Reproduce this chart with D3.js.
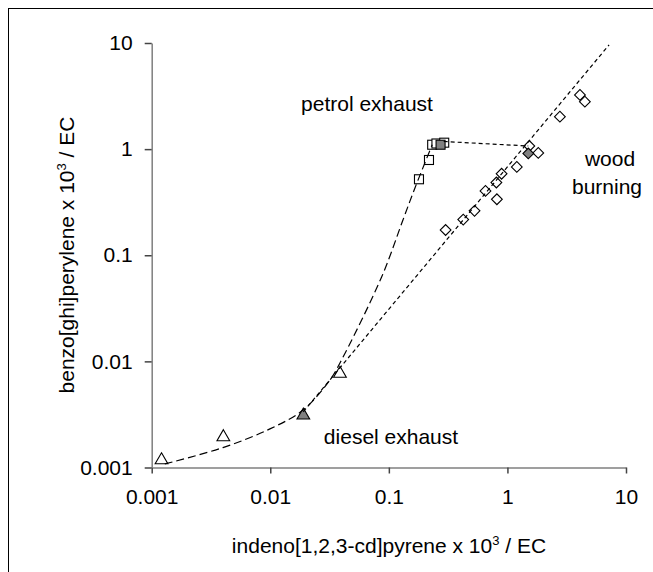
<!DOCTYPE html>
<html><head><meta charset="utf-8">
<script src="https://cdn.jsdelivr.net/npm/d3@7"></script>
<style>body{margin:0;background:#fff}svg{display:block;font-family:"Liberation Sans",Arial,sans-serif}</style>
</head><body><svg id="c" width="653" height="572"></svg>
<script>
// ---- data ----
const xTicks = [0.001, 0.01, 0.1, 1, 10];
const yTicks = [0.001, 0.01, 0.1, 1, 10];
const xTickLabels = ["0.001", "0.01", "0.1", "1", "10"];
const yTickLabels = ["0.001", "0.01", "0.1", "1", "10"];

// diesel exhaust (triangles)
const dieselX = [0.00121, 0.00402, 0.0387];
const dieselY = [0.0012, 0.00198, 0.00783];
const dieselMeanX = [0.019];
const dieselMeanY = [0.00317];

// petrol exhaust (squares)
const petrolX = [0.1795, 0.218, 0.232, 0.252, 0.293];
const petrolY = [0.52, 0.79, 1.10, 1.13, 1.15];
const petrolMeanX = [0.273];
const petrolMeanY = [1.10];

// wood burning (diamonds)
const woodX = [0.301, 0.424, 0.528, 0.653, 0.815, 0.807, 0.893, 1.20, 1.53, 1.82, 2.77, 4.09, 4.50];
const woodY = [0.173, 0.217, 0.262, 0.404, 0.337, 0.485, 0.586, 0.679, 1.07, 0.92, 2.02, 3.24, 2.80];
const woodMeanX = [1.50];
const woodMeanY = [0.91];

// long-dash curve (diesel -> petrol)
const curveX = [0.00129, 0.00399, 0.00993, 0.0189, 0.0319, 0.0387, 0.0869, 0.1315, 0.166, 0.232];
const curveY = [0.00108, 0.00154, 0.00231, 0.00348, 0.00668, 0.00966, 0.0624, 0.215, 0.431, 1.10];
// short-dash straight line (wood burning trend)
const woodLineX = [0.019, 7.2];
const woodLineY = [0.00335, 9.6];
// connecting line petrol -> wood
const linkX = [0.29, 1.50];
const linkY = [1.18, 1.07];

const labels = ["petrol exhaust", "wood", "burning", "diesel exhaust"];

// ---- drawing ----
const svg = d3.select("#c");
const L = 151.7, R = 626, T = 43, B = 467.5;
const x = d3.scaleLog().domain([0.001, 10]).range([L, R]);
const y = d3.scaleLog().domain([0.001, 10]).range([B, T]);

svg.append("rect").attr("x", 8.5).attr("y", 8.5).attr("width", 700).attr("height", 700)
  .attr("fill", "none").attr("stroke", "#000").attr("stroke-width", 1);

const fs = 21;
const ff = '"Liberation Sans",Arial,sans-serif';
// axes
const xAxis = d3.axisBottom(x).tickValues(xTicks).tickFormat((d, i) => xTickLabels[i]).tickSizeOuter(0).tickSizeInner(6).tickPadding(16);
const gx = svg.append("g").attr("transform", `translate(0,${B})`).call(xAxis);
const yAxis = d3.axisLeft(y).tickValues(yTicks).tickFormat((d, i) => yTickLabels[i]).tickSizeOuter(0).tickSizeInner(7).tickPadding(12);
const gy = svg.append("g").attr("transform", `translate(${L},0)`).call(yAxis);
[gx, gy].forEach(g => {
  g.select(".domain").attr("stroke", "#7f7f7f").attr("stroke-width", 1.5);
  g.selectAll(".tick line").attr("stroke", "#444").attr("stroke-width", 1.5);
  g.selectAll("text").attr("font-size", fs).attr("fill", "#000").attr("font-family", ff);
});

// markers
function tri(g, xs, ys, fill) {
  const s = d3.symbol().type(d3.symbolTriangle).size(70);
  g.selectAll(null).data(xs.map((v, i) => [v, ys[i]])).join("path")
    .attr("d", s).attr("transform", d => `translate(${x(d[0])},${y(d[1]) + 1})`)
    .attr("fill", fill).attr("stroke", "#000").attr("stroke-width", 1.1);
}
function sq(g, xs, ys, fill) {
  g.selectAll(null).data(xs.map((v, i) => [v, ys[i]])).join("rect")
    .attr("x", d => x(d[0]) - 4.5).attr("y", d => y(d[1]) - 4.5).attr("width", 9).attr("height", 9)
    .attr("fill", fill).attr("stroke", "#000").attr("stroke-width", 1.1);
}
function dia(g, xs, ys, fill) {
  g.selectAll(null).data(xs.map((v, i) => [v, ys[i]])).join("rect")
    .attr("x", -3.8).attr("y", -3.8).attr("width", 7.6).attr("height", 7.6)
    .attr("transform", d => `translate(${x(d[0])},${y(d[1])}) rotate(45)`)
    .attr("fill", fill).attr("stroke", "#000").attr("stroke-width", 1.1);
}
const gm = svg.append("g");
tri(gm, dieselX, dieselY, "#fff");
tri(gm, dieselMeanX, dieselMeanY, "#808080");
sq(gm, petrolX, petrolY, "#fff");
sq(gm, petrolMeanX, petrolMeanY, "#808080");
dia(gm, woodX, woodY, "#fff");
dia(gm, woodMeanX, woodMeanY, "#808080");

// lines
const line = d3.line().x(d => x(d[0])).y(d => y(d[1]));
svg.append("path").datum(curveX.map((v, i) => [v, curveY[i]]))
  .attr("d", line.curve(d3.curveCatmullRom.alpha(0.5))).attr("fill", "none")
  .attr("stroke", "#000").attr("stroke-width", 1.2).attr("stroke-dasharray", "8,4");
const line2 = d3.line().x(d => x(d[0])).y(d => y(d[1]));
svg.append("path").datum(woodLineX.map((v, i) => [v, woodLineY[i]]))
  .attr("d", line2).attr("fill", "none")
  .attr("stroke", "#000").attr("stroke-width", 1.2).attr("stroke-dasharray", "4,3");
svg.append("path").datum(linkX.map((v, i) => [v, linkY[i]]))
  .attr("d", line2).attr("fill", "none")
  .attr("stroke", "#000").attr("stroke-width", 1.2).attr("stroke-dasharray", "4,3");

// labels
const lab = (t, px, py, anchor) => svg.append("text").attr("x", px).attr("y", py)
  .attr("font-size", fs).attr("font-family", ff).attr("text-anchor", anchor || "start").text(t);
lab(labels[0], 367, 111, "middle");
lab(labels[1], 610, 166, "middle");
lab(labels[2], 607, 194, "middle");
lab(labels[3], 391, 444, "middle");

// axis titles
const xt = svg.append("text").attr("x", 389).attr("y", 553).attr("text-anchor", "middle").attr("font-size", fs).attr("font-family", ff);
xt.append("tspan").text("indeno[1,2,3-cd]pyrene x 10");
xt.append("tspan").attr("dy", -8).attr("font-size", 13).text("3");
xt.append("tspan").attr("dy", 8).text(" / EC");
const yt = svg.append("text").attr("transform", "translate(74,255) rotate(-90)").attr("text-anchor", "middle").attr("font-size", fs).attr("font-family", ff);
yt.append("tspan").text("benzo[ghi]perylene x 10");
yt.append("tspan").attr("dy", -8).attr("font-size", 13).text("3");
yt.append("tspan").attr("dy", 8).text(" / EC");
</script></body></html>
